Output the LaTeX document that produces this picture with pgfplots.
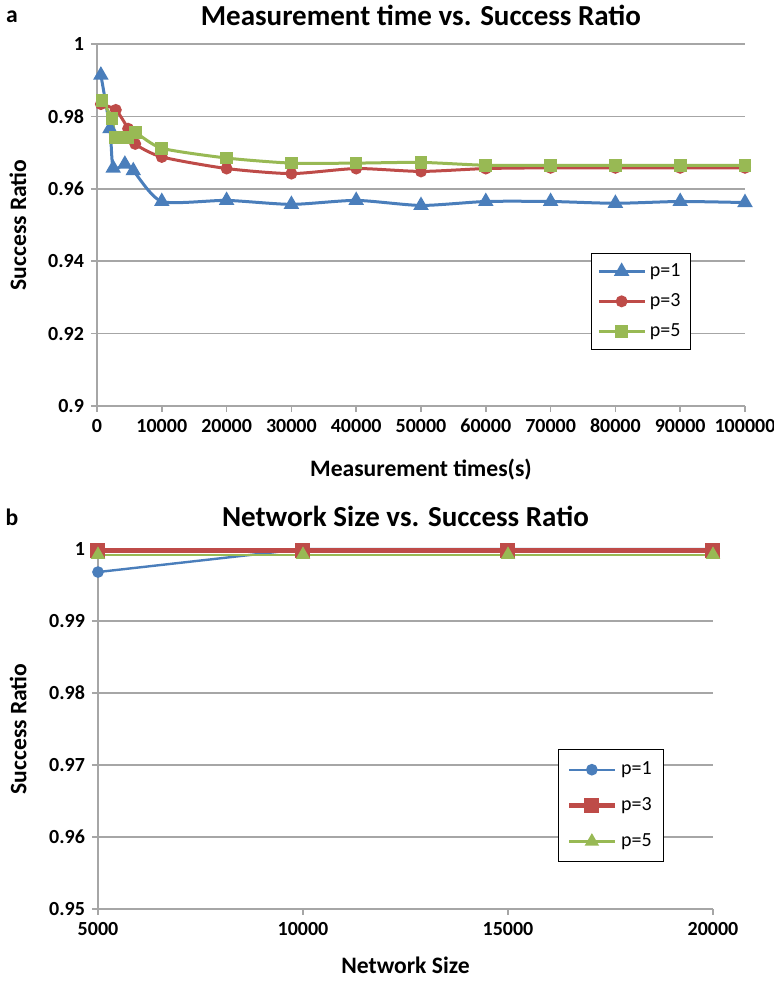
\documentclass[border=0pt]{standalone}
\usepackage{fontspec}
\setmainfont{Carlito}
\usepackage{pgfplots}
\pgfplotsset{compat=1.18}

\definecolor{xblue}{HTML}{4A7EBB}
\definecolor{xred}{HTML}{BE4B48}
\definecolor{xgreen}{HTML}{98B954}
\definecolor{gridgray}{HTML}{A6A6A6}

\pgfplotsset{
  excel/.style={
    scale only axis,
    clip=false,
    axis x line*=bottom, axis y line*=left,
    axis line style={-, gridgray, line width=0.8pt},
    ymajorgrids, grid style={gridgray, line width=0.8pt},
    tick style={gridgray, line width=0.8pt},
    tick align=outside, major tick length=3pt,
    /pgf/number format/assume math mode=true,
    ticklabel style={font=\bfseries\fontsize{10}{12}\selectfont},
    yticklabel style={/pgf/number format/fixed, /pgf/number format/precision=2},
    xticklabel style={/pgf/number format/fixed, /pgf/number format/precision=0,
      /pgf/number format/set thousands separator={}},
    scaled x ticks=false, scaled y ticks=false,
    label style={font=\bfseries\fontsize{11.8}{13}\selectfont},
    ylabel style={anchor=center},
    title style={font=\bfseries\fontsize{14.5}{16}\selectfont, at={(axis description cs:0.5,1)}, anchor=center},
    legend cell align=left,
    legend style={draw=black, line width=0.6pt, font=\fontsize{10}{12}\selectfont, anchor=north west},
    legend image code/.code={\draw[mark repeat=2,mark phase=2,#1] plot coordinates {(0cm,0cm) (0.4cm,0cm) (0.8cm,0cm)};},
  }
}

\begin{document}
\begin{tikzpicture}
\useasboundingbox (0,0) rectangle (387pt,-491pt);

\node[font=\bfseries\fontsize{11.8}{13}\selectfont] at (6pt,-8.5pt) {a};
\node[font=\bfseries\fontsize{11.8}{13}\selectfont] at (6pt,-258.5pt) {b};

% (a) measurement time
\begin{axis}[excel,
  at={(48.5pt,-22pt)}, anchor=north west,
  width=324pt, height=181pt,
  xmin=0, xmax=100000, ymin=0.9, ymax=1,
  xtick distance=10000, ytick distance=0.02,
  title={Measurement time vs. Success Ratio},
  title style={yshift=8.5pt},
  xlabel={Measurement times(s)},
  xlabel style={at={(axis description cs:0.5,0)}, anchor=center, yshift=-32pt},
  ylabel={Success Ratio},
  ylabel style={at={(axis description cs:-0.122,0.5)}},
  legend style={at={(0.762,0.423)}, row sep=3pt, inner sep=3pt},
]
\addplot[xblue, line width=1.5pt, smooth, tension=0.4, mark=triangle*, mark size=3pt] coordinates {
  (600,0.9914) (2000,0.9766) (2500,0.9657) (4300,0.9668) (5600,0.9650) (10000,0.9565)
  (20000,0.9568) (30000,0.9557) (40000,0.9568) (50000,0.9554) (60000,0.9565)
  (70000,0.9565) (80000,0.9560) (90000,0.9565) (100000,0.9562)
};
\addplot[xred, line width=1.5pt, smooth, tension=0.4, mark=*, mark size=2.2pt] coordinates {
  (600,0.9834) (2900,0.9818) (4800,0.9766) (5900,0.9724) (10000,0.9688)
  (20000,0.9656) (30000,0.9642) (40000,0.9656) (50000,0.9648) (60000,0.9656)
  (70000,0.9658) (80000,0.9658) (90000,0.9658) (100000,0.9658)
};
\addplot[xgreen, line width=1.5pt, smooth, tension=0.4, mark=square*, mark size=2.4pt] coordinates {
  (800,0.9844) (2300,0.9794) (2900,0.9741) (4800,0.9741) (5900,0.9755) (10000,0.9712)
  (20000,0.9685) (30000,0.9671) (40000,0.9671) (50000,0.9673) (60000,0.9665)
  (70000,0.9665) (80000,0.9665) (90000,0.9665) (100000,0.9665)
};
\legend{p=1, p=3, p=5}
\end{axis}

% (b) network size
\begin{axis}[excel,
  at={(49pt,-274.5pt)}, anchor=north west,
  width=307.5pt, height=180pt,
  xmin=5000, xmax=20000, ymin=0.95, ymax=1,
  xtick={5000,10000,15000,20000}, ytick distance=0.01,
  title={Network Size vs. Success Ratio},
  title style={yshift=10.5pt},
  xlabel={Network Size},
  xlabel style={at={(axis description cs:0.5,0)}, anchor=center, yshift=-28pt},
  ylabel={Success Ratio},
  ylabel style={at={(axis description cs:-0.130,0.5)}},
  legend style={at={(0.748,0.444)}, row sep=6pt, inner sep=4pt},
]
\addplot[xblue, line width=1.2pt, mark=*, mark size=2.3pt] coordinates {
  (5000,0.9968) (10000,1.0000) (15000,1.0000) (20000,1.0000)
};
\addplot[xred, line width=2.5pt, mark=square*, mark size=2.5pt] coordinates {
  (5000,0.9998) (10000,0.9998) (15000,0.9998) (20000,0.9998)
};
\addplot[xgreen, line width=1.2pt, mark=triangle*, mark size=3pt] coordinates {
  (5000,0.9992) (10000,0.9992) (15000,0.9992) (20000,0.9992)
};
\legend{p=1, p=3, p=5}
\end{axis}
\end{tikzpicture}
\end{document}
